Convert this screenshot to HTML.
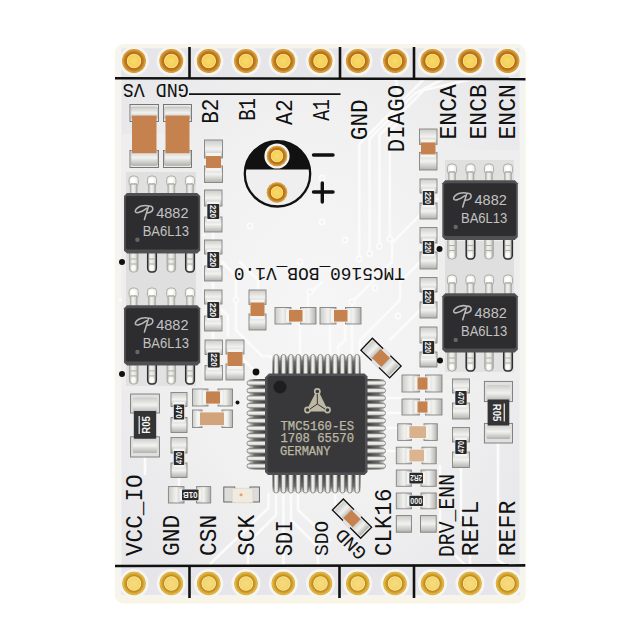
<!DOCTYPE html>
<html><head><meta charset="utf-8"><title>TMC5160-BOB</title>
<style>
html,body{margin:0;padding:0;background:#fff;}
svg{display:block}
text{font-family:"Liberation Sans",sans-serif;}
.silk{font-family:"Liberation Mono","DejaVu Sans Mono",monospace;fill:#111;}
.chip{font-family:"Liberation Sans",sans-serif;fill:#c2c2c2;}
.ic{font-family:"Liberation Mono",monospace;fill:#bdb9a3;stroke:#bdb9a3;stroke-width:0.25px}
.rt{font-family:"Liberation Sans",sans-serif;fill:#f4f4f4;font-weight:bold}
</style></head><body>
<svg width="640" height="640" viewBox="0 0 640 640">
<defs>
<radialGradient id="gold" cx="50%" cy="50%" r="50%">
<stop offset="0" stop-color="#f8da6c"/><stop offset="0.48" stop-color="#f5cf58"/><stop offset="0.57" stop-color="#fbe078"/><stop offset="0.64" stop-color="#b06c1e"/><stop offset="0.8" stop-color="#c27e24"/><stop offset="0.93" stop-color="#dca233"/><stop offset="1" stop-color="#c88e2c"/>
</radialGradient>
<radialGradient id="goldB" cx="50%" cy="50%" r="50%">
<stop offset="0" stop-color="#f6dc80"/><stop offset="0.5" stop-color="#f4d470"/><stop offset="0.58" stop-color="#f8e48c"/><stop offset="0.65" stop-color="#bd8820"/><stop offset="0.8" stop-color="#d2a22c"/><stop offset="0.93" stop-color="#e4ba46"/><stop offset="1" stop-color="#cf9e30"/>
</radialGradient>
<linearGradient id="padv" x1="0" y1="0" x2="0" y2="1"><stop offset="0" stop-color="#cbcbc8"/><stop offset="0.5" stop-color="#f2f2f0"/><stop offset="1" stop-color="#b2b2ae"/></linearGradient>
<linearGradient id="padh" x1="0" y1="0" x2="1" y2="0"><stop offset="0" stop-color="#cbcbc8"/><stop offset="0.5" stop-color="#f2f2f0"/><stop offset="1" stop-color="#b2b2ae"/></linearGradient>
<linearGradient id="pinv" x1="0" y1="0" x2="1" y2="0"><stop offset="0" stop-color="#b5b5b0"/><stop offset="0.35" stop-color="#f2f2ee"/><stop offset="0.7" stop-color="#e2e2de"/><stop offset="1" stop-color="#a5a5a0"/></linearGradient>
<linearGradient id="pinh" x1="0" y1="0" x2="0" y2="1"><stop offset="0" stop-color="#b5b5b0"/><stop offset="0.35" stop-color="#f2f2ee"/><stop offset="0.7" stop-color="#e2e2de"/><stop offset="1" stop-color="#a5a5a0"/></linearGradient>
</defs>

<rect x="0" y="0" width="640" height="640" fill="#ffffff"/>
<rect x="114.8" y="44" width="410.8" height="559.5" rx="9" ry="9" fill="#f8f4e6"/>
<rect x="116.5" y="46.5" width="407.5" height="551" rx="7" ry="7" fill="#f4f4f2"/>
<defs><radialGradient id="brd" cx="0.5" cy="0.48" r="0.62"><stop offset="0" stop-color="#f6f6f6"/><stop offset="0.55" stop-color="#f1f1f2"/><stop offset="1" stop-color="#e8e8ea"/></radialGradient></defs>
<rect x="121.5" y="48.5" width="398" height="546.5" rx="3" ry="3" fill="url(#brd)"/>
<g id="traces" fill="none" stroke="#fbfbfb" stroke-width="2.6" stroke-linecap="round" stroke-linejoin="round">
<path d="M359.3 259 V144 L408 95 L430 73"/>
<path d="M369.5 253.6 V139 L415 93.5 L455 73 L468 68"/>
<path d="M379.4 246.4 V135 L424 90 L490 75 L505 68"/>
<path d="M389.9 239 V131 L400 121 L400 100 L395 75"/>
<path d="M420 215 L392 243 L392 262 L352 302 L352 354"/>
<path d="M420 262 L400 282 L400 300 L368 332 L360 340 V354"/>
<path d="M420 310 L408 322 L390 340"/>
<path d="M437 199 L444 199"/>
<path d="M437 248 L444 248"/>
<path d="M222 262 L236 276 L236 330 L262 356 L270 356 L276 362"/>
<path d="M222 310 L228 316 L228 336"/>
<path d="M213 232 V240"/>
<path d="M213 281 V290"/>
<path d="M213 331 V340"/>
<path d="M244 360 L258 374 L258 381"/>
<path d="M300 324 V354"/>
<path d="M330 324 V354"/>
<path d="M308 307 V296 L322 282"/>
<path d="M345 324 L345 340 L338 347 V354"/>
<path d="M258 290 L258 280 L240 262"/>
<path d="M283.3 494 V566"/>
<path d="M291 494 V520 L318 547 V566"/>
<path d="M276 494 V515 L248 543 V566"/>
<path d="M298 494 V510 L330 540"/>
<path d="M268.5 494 V508 L214 560 L209 566"/>
<path d="M335 494 V504 L342 511"/>
<path d="M385 398 H402"/>
<path d="M385 413 H402"/>
<path d="M385 428 H397"/>
<path d="M385 451 H396"/>
<path d="M440 466 V540 L466 566"/>
<path d="M461 467.5 V520 L470 530 V566"/>
<path d="M498 443 V560 L507 566"/>
<path d="M145 457 V474"/>
<path d="M179 477.5 V486"/>
<path d="M120 300 H126"/>
<path d="M160 235 L204 235"/>
</g>
<circle cx="359.3" cy="259" r="2.6" fill="#f1f1f2" stroke="#fcfcfc" stroke-width="1.6"/>
<circle cx="369.5" cy="253.6" r="2.6" fill="#f1f1f2" stroke="#fcfcfc" stroke-width="1.6"/>
<circle cx="379.4" cy="246.4" r="2.6" fill="#f1f1f2" stroke="#fcfcfc" stroke-width="1.6"/>
<circle cx="389.9" cy="239" r="2.6" fill="#f1f1f2" stroke="#fcfcfc" stroke-width="1.6"/>
<circle cx="375" cy="288" r="2.6" fill="#f1f1f2" stroke="#fcfcfc" stroke-width="1.6"/>
<circle cx="398" cy="316" r="2.6" fill="#f1f1f2" stroke="#fcfcfc" stroke-width="1.6"/>
<circle cx="322" cy="178" r="2.6" fill="#f1f1f2" stroke="#fcfcfc" stroke-width="1.6"/>
<circle cx="322" cy="222" r="2.6" fill="#f1f1f2" stroke="#fcfcfc" stroke-width="1.6"/>
<circle cx="310" cy="292" r="2.6" fill="#f1f1f2" stroke="#fcfcfc" stroke-width="1.6"/>
<circle cx="345" cy="240" r="2.6" fill="#f1f1f2" stroke="#fcfcfc" stroke-width="1.6"/>
<circle cx="300" cy="262" r="2.6" fill="#f1f1f2" stroke="#fcfcfc" stroke-width="1.6"/>
<circle cx="352" cy="302" r="2.6" fill="#f1f1f2" stroke="#fcfcfc" stroke-width="1.6"/>
<circle cx="236" cy="300" r="2.6" fill="#f1f1f2" stroke="#fcfcfc" stroke-width="1.6"/>
<circle cx="250" cy="226" r="2.6" fill="#f1f1f2" stroke="#fcfcfc" stroke-width="1.6"/>
<rect x="122" y="134" width="80" height="256" fill="#eeeeef"/>
<rect x="439" y="150" width="80" height="230" fill="#eeeeef"/>
<rect x="121.5" y="48.5" width="398" height="29" fill="#e6e6ea"/>
<rect x="121.5" y="567" width="398" height="28" fill="#e6e6ea"/>
<g stroke="#111" stroke-width="2.6" fill="none">
<path d="M115 78.3 L525.5 79.1"/>
<path d="M115 566 L525.3 565.4"/>
<path d="M189.5 47 V78.5"/>
<path d="M340 47 V78.5"/>
<path d="M414 47 V78.5"/>
<path d="M189.5 566 V598"/>
<path d="M339.5 566 V598"/>
<path d="M414 566 V598"/>
</g>
<path d="M189 94.2 H340.5" stroke="#111" stroke-width="1.8" fill="none"/>
<circle cx="134" cy="61" r="14.7" fill="#f6f5f0"/>
<circle cx="134" cy="61" r="11.9" fill="url(#gold)"/>
<circle cx="134" cy="583.5" r="14.5" fill="#f6f5f0"/>
<circle cx="134" cy="583.5" r="11.7" fill="url(#goldB)"/>
<circle cx="171.3" cy="61" r="14.7" fill="#f6f5f0"/>
<circle cx="171.3" cy="61" r="11.9" fill="url(#gold)"/>
<circle cx="171.3" cy="583.5" r="14.5" fill="#f6f5f0"/>
<circle cx="171.3" cy="583.5" r="11.7" fill="url(#goldB)"/>
<circle cx="208.7" cy="61" r="14.7" fill="#f6f5f0"/>
<circle cx="208.7" cy="61" r="11.9" fill="url(#gold)"/>
<circle cx="208.7" cy="583.5" r="14.5" fill="#f6f5f0"/>
<circle cx="208.7" cy="583.5" r="11.7" fill="url(#goldB)"/>
<circle cx="246" cy="61" r="14.7" fill="#f6f5f0"/>
<circle cx="246" cy="61" r="11.9" fill="url(#gold)"/>
<circle cx="246" cy="583.5" r="14.5" fill="#f6f5f0"/>
<circle cx="246" cy="583.5" r="11.7" fill="url(#goldB)"/>
<circle cx="283.3" cy="61" r="14.7" fill="#f6f5f0"/>
<circle cx="283.3" cy="61" r="11.9" fill="url(#gold)"/>
<circle cx="283.3" cy="583.5" r="14.5" fill="#f6f5f0"/>
<circle cx="283.3" cy="583.5" r="11.7" fill="url(#goldB)"/>
<circle cx="320.5" cy="61" r="14.7" fill="#f6f5f0"/>
<circle cx="320.5" cy="61" r="11.9" fill="url(#gold)"/>
<circle cx="320.5" cy="583.5" r="14.5" fill="#f6f5f0"/>
<circle cx="320.5" cy="583.5" r="11.7" fill="url(#goldB)"/>
<circle cx="357.8" cy="61" r="14.7" fill="#f6f5f0"/>
<circle cx="357.8" cy="61" r="11.9" fill="url(#gold)"/>
<circle cx="357.8" cy="583.5" r="14.5" fill="#f6f5f0"/>
<circle cx="357.8" cy="583.5" r="11.7" fill="url(#goldB)"/>
<circle cx="395" cy="61" r="14.7" fill="#f6f5f0"/>
<circle cx="395" cy="61" r="11.9" fill="url(#gold)"/>
<circle cx="395" cy="583.5" r="14.5" fill="#f6f5f0"/>
<circle cx="395" cy="583.5" r="11.7" fill="url(#goldB)"/>
<circle cx="432.5" cy="61" r="14.7" fill="#f6f5f0"/>
<circle cx="432.5" cy="61" r="11.9" fill="url(#gold)"/>
<circle cx="432.5" cy="583.5" r="14.5" fill="#f6f5f0"/>
<circle cx="432.5" cy="583.5" r="11.7" fill="url(#goldB)"/>
<circle cx="470" cy="61" r="14.7" fill="#f6f5f0"/>
<circle cx="470" cy="61" r="11.9" fill="url(#gold)"/>
<circle cx="470" cy="583.5" r="14.5" fill="#f6f5f0"/>
<circle cx="470" cy="583.5" r="11.7" fill="url(#goldB)"/>
<circle cx="507.5" cy="61" r="14.7" fill="#f6f5f0"/>
<circle cx="507.5" cy="61" r="11.9" fill="url(#gold)"/>
<circle cx="507.5" cy="583.5" r="14.5" fill="#f6f5f0"/>
<circle cx="507.5" cy="583.5" r="11.7" fill="url(#goldB)"/>
<text class="silk" transform="translate(217.50,123.80) rotate(-90)" font-size="24.24" textLength="25.20" lengthAdjust="spacingAndGlyphs">B2</text>
<text class="silk" transform="translate(254.80,120.80) rotate(-90)" font-size="24.24" textLength="22.80" lengthAdjust="spacingAndGlyphs">B1</text>
<text class="silk" transform="translate(291.90,124.90) rotate(-90)" font-size="24.24" textLength="25.60" lengthAdjust="spacingAndGlyphs">A2</text>
<text class="silk" transform="translate(329.30,120.80) rotate(-90)" font-size="24.24" textLength="21.50" lengthAdjust="spacingAndGlyphs">A1</text>
<text class="silk" transform="translate(366.50,140.20) rotate(-90)" font-size="24.24" textLength="40.91" lengthAdjust="spacingAndGlyphs">GND</text>
<text class="silk" transform="translate(403.70,152.20) rotate(-90)" font-size="24.24" textLength="67.41" lengthAdjust="spacingAndGlyphs">DIAGO</text>
<text class="silk" transform="translate(456.10,139.50) rotate(-90)" font-size="24.24" textLength="55.51" lengthAdjust="spacingAndGlyphs">ENCA</text>
<text class="silk" transform="translate(485.70,139.50) rotate(-90)" font-size="24.24" textLength="55.51" lengthAdjust="spacingAndGlyphs">ENCB</text>
<text class="silk" transform="translate(515.20,139.50) rotate(-90)" font-size="24.24" textLength="55.51" lengthAdjust="spacingAndGlyphs">ENCN</text>
<text class="silk" transform="translate(141.70,556.00) rotate(-90)" font-size="24.24" textLength="81.61" lengthAdjust="spacingAndGlyphs">VCC_IO</text>
<text class="silk" transform="translate(178.90,556.00) rotate(-90)" font-size="24.24" textLength="41.11" lengthAdjust="spacingAndGlyphs">GND</text>
<text class="silk" transform="translate(216.10,556.00) rotate(-90)" font-size="24.24" textLength="41.11" lengthAdjust="spacingAndGlyphs">CSN</text>
<text class="silk" transform="translate(254.00,556.00) rotate(-90)" font-size="24.24" textLength="41.11" lengthAdjust="spacingAndGlyphs">SCK</text>
<text class="silk" transform="translate(291.50,556.00) rotate(-90)" font-size="24.24" textLength="35.70" lengthAdjust="spacingAndGlyphs">SDI</text>
<text class="silk" transform="translate(327.75,556.00) rotate(-90)" font-size="20.45" textLength="35.20" lengthAdjust="spacingAndGlyphs">SDO</text>
<text class="silk" transform="translate(390.50,556.00) rotate(-90)" font-size="24.24" textLength="67.41" lengthAdjust="spacingAndGlyphs">CLK16</text>
<text class="silk" transform="translate(453.60,557.00) rotate(-90)" font-size="21.52" textLength="83.01" lengthAdjust="spacingAndGlyphs">DRV_ENN</text>
<text class="silk" transform="translate(478.20,556.30) rotate(-90)" font-size="24.24" textLength="55.71" lengthAdjust="spacingAndGlyphs">REFL</text>
<text class="silk" transform="translate(515.00,556.30) rotate(-90)" font-size="24.24" textLength="55.71" lengthAdjust="spacingAndGlyphs">REFR</text>
<text class="silk" transform="translate(188.80,83.90) rotate(180)" font-size="20.61" textLength="66.11" lengthAdjust="spacingAndGlyphs">GND VS</text>
<text class="silk" transform="translate(405.00,268.40) rotate(180)" font-size="18.48" textLength="171.12" lengthAdjust="spacingAndGlyphs">TMC5160_BOB_V1.0</text>
<text class="silk" transform="translate(367.74,552.44) rotate(225)" font-size="18.64" textLength="35.60" lengthAdjust="spacingAndGlyphs">GND</text>
<circle cx="277.5" cy="173.8" r="32.7" fill="#efeff0" stroke="#111" stroke-width="2.3"/>
<path d="M244.6 169.5 A33.2 33.2 0 0 1 310.4 169.5 Z" fill="#111"/>
<circle cx="277" cy="156" r="12.6" fill="#f4f4f2"/>
<circle cx="277" cy="156" r="10.3" fill="url(#gold)"/>
<circle cx="277" cy="192.5" r="10.3" fill="url(#gold)"/>
<g stroke="#111" stroke-width="3.4" stroke-linecap="round"><path d="M313.5 155 H333"/><path d="M313.5 192 H333"/><path d="M322.3 183 V202"/></g>
<rect x="130" y="104.5" width="28.5" height="17" fill="#e9e9e7" stroke="#6a6a6a" stroke-width="0.9"/>
<rect x="130" y="150.5" width="28.5" height="17" fill="#e9e9e7" stroke="#6a6a6a" stroke-width="0.9"/>
<rect x="130.8" y="107" width="26.9" height="12" rx="2" fill="url(#padv)" stroke="#bdbdb9" stroke-width="0.6"/>
<rect x="130.8" y="150" width="26.9" height="15.5" rx="2" fill="url(#padv)" stroke="#a9a9a5" stroke-width="0.6"/>
<rect x="132" y="115.6" width="24.5" height="37.6" fill="#c5824f"/>
<rect x="163.5" y="104.5" width="28.0" height="17" fill="#e9e9e7" stroke="#6a6a6a" stroke-width="0.9"/>
<rect x="163.5" y="150.5" width="28.0" height="17" fill="#e9e9e7" stroke="#6a6a6a" stroke-width="0.9"/>
<rect x="164.3" y="107" width="26.4" height="12" rx="2" fill="url(#padv)" stroke="#bdbdb9" stroke-width="0.6"/>
<rect x="164.3" y="150" width="26.4" height="15.5" rx="2" fill="url(#padv)" stroke="#a9a9a5" stroke-width="0.6"/>
<rect x="165.5" y="115.6" width="24.0" height="37.6" fill="#c5824f"/>
<rect x="204.50" y="140.00" width="18.00" height="18.00" fill="url(#padv)" stroke="#838381" stroke-width="0.9"/>
<rect x="204.50" y="166.00" width="18.00" height="16.50" fill="url(#padv)" stroke="#838381" stroke-width="0.9"/>
<rect x="206.0" y="153" width="15.0" height="18" fill="#f3f3f1"/>
<rect x="206.0" y="156" width="15.0" height="12" fill="#c5824f"/>
<rect x="204.50" y="190.00" width="17.50" height="16.00" fill="url(#padv)" stroke="#838381" stroke-width="0.9"/>
<rect x="204.50" y="217.00" width="17.50" height="15.00" fill="url(#padv)" stroke="#838381" stroke-width="0.9"/>
<rect x="206.7" y="201.5" width="13.1" height="20" fill="#f3f3f1"/>
<rect x="207.3" y="204" width="11.9" height="15" rx="0.8" fill="#29292b"/>
<text class="rt" transform="translate(210.15,211.50) rotate(90)" font-size="8.6" text-anchor="middle" textLength="13.2" lengthAdjust="spacingAndGlyphs">220</text>
<rect x="204.50" y="240.00" width="17.50" height="14.00" fill="url(#padv)" stroke="#838381" stroke-width="0.9"/>
<rect x="204.50" y="266.00" width="17.50" height="15.00" fill="url(#padv)" stroke="#838381" stroke-width="0.9"/>
<rect x="206.7" y="249.5" width="13.1" height="21" fill="#f3f3f1"/>
<rect x="207.3" y="252" width="11.9" height="16" rx="0.8" fill="#29292b"/>
<text class="rt" transform="translate(210.15,260.00) rotate(90)" font-size="8.6" text-anchor="middle" textLength="14.2" lengthAdjust="spacingAndGlyphs">220</text>
<rect x="204.50" y="290.00" width="17.50" height="14.00" fill="url(#padv)" stroke="#838381" stroke-width="0.9"/>
<rect x="204.50" y="316.00" width="17.50" height="15.00" fill="url(#padv)" stroke="#838381" stroke-width="0.9"/>
<rect x="206.7" y="299.5" width="13.1" height="21" fill="#f3f3f1"/>
<rect x="207.3" y="302" width="11.9" height="16" rx="0.8" fill="#29292b"/>
<text class="rt" transform="translate(210.15,310.00) rotate(90)" font-size="8.6" text-anchor="middle" textLength="14.2" lengthAdjust="spacingAndGlyphs">220</text>
<rect x="205.00" y="340.00" width="17.50" height="14.50" fill="url(#padv)" stroke="#838381" stroke-width="0.9"/>
<rect x="205.00" y="365.50" width="17.50" height="14.50" fill="url(#padv)" stroke="#838381" stroke-width="0.9"/>
<rect x="207.2" y="350.0" width="13.1" height="20.0" fill="#f3f3f1"/>
<rect x="207.8" y="352.5" width="11.9" height="15.0" rx="0.8" fill="#29292b"/>
<text class="rt" transform="translate(210.65,360.00) rotate(90)" font-size="8.6" text-anchor="middle" textLength="13.2" lengthAdjust="spacingAndGlyphs">220</text>
<rect x="226.00" y="340.00" width="18.00" height="14.00" fill="url(#padv)" stroke="#838381" stroke-width="0.9"/>
<rect x="226.00" y="364.00" width="18.00" height="16.00" fill="url(#padv)" stroke="#838381" stroke-width="0.9"/>
<rect x="227.5" y="349" width="15" height="20" fill="#f3f3f1"/>
<rect x="227.5" y="352" width="15" height="14" fill="#c5824f"/>
<rect x="419.50" y="129.00" width="17.50" height="15.40" fill="url(#padv)" stroke="#838381" stroke-width="0.9"/>
<rect x="419.50" y="152.40" width="17.50" height="17.60" fill="url(#padv)" stroke="#838381" stroke-width="0.9"/>
<rect x="421.0" y="139.4" width="14.5" height="18.0" fill="#f3f3f1"/>
<rect x="421.0" y="142.4" width="14.5" height="12.0" fill="#c5824f"/>
<rect x="420.00" y="179.00" width="17.00" height="14.00" fill="url(#padv)" stroke="#838381" stroke-width="0.9"/>
<rect x="420.00" y="203.00" width="17.00" height="16.00" fill="url(#padv)" stroke="#838381" stroke-width="0.9"/>
<rect x="422.2" y="188.5" width="12.6" height="19" fill="#f3f3f1"/>
<rect x="422.8" y="191" width="11.4" height="14" rx="0.8" fill="#29292b"/>
<text class="rt" transform="translate(425.40,198.00) rotate(90)" font-size="8.6" text-anchor="middle" textLength="12.2" lengthAdjust="spacingAndGlyphs">220</text>
<rect x="420.00" y="227.50" width="17.00" height="15.50" fill="url(#padv)" stroke="#838381" stroke-width="0.9"/>
<rect x="420.00" y="252.00" width="17.00" height="17.00" fill="url(#padv)" stroke="#838381" stroke-width="0.9"/>
<rect x="422.2" y="238.5" width="12.6" height="18" fill="#f3f3f1"/>
<rect x="422.8" y="241" width="11.4" height="13" rx="0.8" fill="#29292b"/>
<text class="rt" transform="translate(425.40,247.50) rotate(90)" font-size="8.6" text-anchor="middle" textLength="11.2" lengthAdjust="spacingAndGlyphs">220</text>
<rect x="420.00" y="277.50" width="17.00" height="14.50" fill="url(#padv)" stroke="#838381" stroke-width="0.9"/>
<rect x="420.00" y="302.00" width="17.00" height="16.00" fill="url(#padv)" stroke="#838381" stroke-width="0.9"/>
<rect x="422.2" y="287.5" width="12.6" height="19" fill="#f3f3f1"/>
<rect x="422.8" y="290" width="11.4" height="14" rx="0.8" fill="#29292b"/>
<text class="rt" transform="translate(425.40,297.00) rotate(90)" font-size="8.6" text-anchor="middle" textLength="12.2" lengthAdjust="spacingAndGlyphs">220</text>
<rect x="420.00" y="327.00" width="17.00" height="16.00" fill="url(#padv)" stroke="#838381" stroke-width="0.9"/>
<rect x="420.00" y="352.00" width="17.00" height="15.00" fill="url(#padv)" stroke="#838381" stroke-width="0.9"/>
<rect x="422.2" y="338.5" width="12.6" height="18" fill="#f3f3f1"/>
<rect x="422.8" y="341" width="11.4" height="13" rx="0.8" fill="#29292b"/>
<text class="rt" transform="translate(425.40,347.50) rotate(90)" font-size="8.6" text-anchor="middle" textLength="11.2" lengthAdjust="spacingAndGlyphs">220</text>
<rect x="249.00" y="290.00" width="17.00" height="14.50" fill="url(#padv)" stroke="#838381" stroke-width="0.9"/>
<rect x="249.00" y="314.00" width="17.00" height="16.00" fill="url(#padv)" stroke="#838381" stroke-width="0.9"/>
<rect x="250.5" y="299.5" width="14" height="19.5" fill="#f3f3f1"/>
<rect x="250.5" y="302.5" width="14" height="13.5" fill="#c5824f"/>
<rect x="275.00" y="307.50" width="16.00" height="16.50" fill="url(#padh)" stroke="#838381" stroke-width="0.9"/>
<rect x="300.50" y="307.50" width="15.50" height="16.50" fill="url(#padh)" stroke="#838381" stroke-width="0.9"/>
<rect x="286" y="309.0" width="19.5" height="13.5" fill="#f3f3f1"/>
<rect x="289" y="309.9" width="13.5" height="11.7" fill="#c5824f"/>
<rect x="320.00" y="307.50" width="16.00" height="16.50" fill="url(#padh)" stroke="#838381" stroke-width="0.9"/>
<rect x="345.50" y="307.50" width="15.50" height="16.50" fill="url(#padh)" stroke="#838381" stroke-width="0.9"/>
<rect x="331" y="309.0" width="19.5" height="13.5" fill="#f3f3f1"/>
<rect x="334" y="309.9" width="13.5" height="11.7" fill="#c5824f"/>
<rect x="192.50" y="389.00" width="15.50" height="17.00" fill="url(#padh)" stroke="#838381" stroke-width="0.9"/>
<rect x="218.00" y="389.00" width="14.50" height="17.00" fill="url(#padh)" stroke="#838381" stroke-width="0.9"/>
<rect x="203" y="390.5" width="20" height="14" fill="#f3f3f1"/>
<rect x="206" y="391.4" width="14" height="12.2" fill="#c5824f"/>
<rect x="192.50" y="410.00" width="9.50" height="17.50" fill="url(#padh)" stroke="#838381" stroke-width="0.9"/>
<rect x="222.00" y="410.00" width="10.50" height="17.50" fill="url(#padh)" stroke="#838381" stroke-width="0.9"/>
<rect x="197" y="411.5" width="30" height="14.5" fill="#f3f3f1"/>
<rect x="200" y="412.4" width="24" height="12.7" fill="#d2a47c"/>
<rect x="171.00" y="392.50" width="16.00" height="14.00" fill="url(#padv)" stroke="#838381" stroke-width="0.9"/>
<rect x="171.00" y="417.50" width="16.00" height="15.00" fill="url(#padv)" stroke="#838381" stroke-width="0.9"/>
<rect x="173.2" y="402.0" width="11.6" height="20.0" fill="#f3f3f1"/>
<rect x="173.8" y="404.5" width="10.4" height="15.0" rx="0.8" fill="#29292b"/>
<text class="rt" transform="translate(175.90,412.00) rotate(90)" font-size="8.6" text-anchor="middle" textLength="13.2" lengthAdjust="spacingAndGlyphs">470</text>
<rect x="171.00" y="437.50" width="16.00" height="15.50" fill="url(#padv)" stroke="#838381" stroke-width="0.9"/>
<rect x="171.00" y="463.00" width="16.00" height="14.50" fill="url(#padv)" stroke="#838381" stroke-width="0.9"/>
<rect x="173.2" y="448.5" width="11.6" height="19" fill="#f3f3f1"/>
<rect x="173.8" y="451" width="10.4" height="14" rx="0.8" fill="#29292b"/>
<text class="rt" transform="translate(182.10,458.00) rotate(-90)" font-size="8.6" text-anchor="middle" textLength="12.2" lengthAdjust="spacingAndGlyphs">470</text>
<rect x="168.40" y="486.60" width="15.60" height="16.40" fill="url(#padh)" stroke="#838381" stroke-width="0.9"/>
<rect x="196.50" y="486.60" width="14.20" height="16.40" fill="url(#padh)" stroke="#838381" stroke-width="0.9"/>
<rect x="179.5" y="488.8" width="21.5" height="11.999999999999977" fill="#f3f3f1"/>
<rect x="182" y="489.40000000000003" width="16.5" height="10.799999999999978" rx="0.8" fill="#29292b"/>
<text class="rt" transform="translate(190.25,491.70) rotate(180)" font-size="8.6" text-anchor="middle" textLength="14.7" lengthAdjust="spacingAndGlyphs">01B</text>
<rect x="223.8" y="487" width="11" height="15" fill="#dcdcda" stroke="#5a5a5a" stroke-width="0.9"/>
<rect x="250" y="487" width="9.4" height="15" fill="#dcdcda" stroke="#5a5a5a" stroke-width="0.9"/>
<rect x="232.2" y="488.3" width="20.7" height="14.4" rx="1" fill="#f1eadf" stroke="#d9cfc0" stroke-width="0.6"/><circle cx="241" cy="494.8" r="1.5" fill="#e8a070"/>
<rect x="130.6" y="394" width="28.80000000000001" height="19" fill="#e0e0de" stroke="#77777a" stroke-width="0.9"/>
<rect x="130.6" y="436.8" width="28.80000000000001" height="20.19999999999999" fill="#e0e0de" stroke="#77777a" stroke-width="0.9"/>
<rect x="132.79999999999998" y="397.5" width="24.400000000000013" height="15" rx="1.5" fill="url(#padv)"/>
<rect x="132.79999999999998" y="437.8" width="24.400000000000013" height="15.199999999999989" rx="1.5" fill="url(#padv)"/>
<rect x="133.79999999999998" y="411" width="22.400000000000013" height="27.80000000000001" rx="1" fill="#343436"/>
<text class="rt" transform="translate(150.00,424.90) rotate(-90)" font-size="10.5" text-anchor="middle" textLength="17.5" lengthAdjust="spacingAndGlyphs">R05</text>
<path d="M139.20 415.9 V433.9" stroke="#f2f2f2" stroke-width="1.2"/>
<rect x="484.4" y="381.4" width="28.100000000000023" height="20.200000000000045" fill="#e0e0de" stroke="#77777a" stroke-width="0.9"/>
<rect x="484.4" y="423.4" width="28.100000000000023" height="19.600000000000023" fill="#e0e0de" stroke="#77777a" stroke-width="0.9"/>
<rect x="486.59999999999997" y="384.9" width="23.700000000000024" height="16.200000000000045" rx="1.5" fill="url(#padv)"/>
<rect x="486.59999999999997" y="424.4" width="23.700000000000024" height="14.600000000000023" rx="1.5" fill="url(#padv)"/>
<rect x="487.59999999999997" y="399.6" width="21.700000000000024" height="25.799999999999955" rx="1" fill="#343436"/>
<text class="rt" transform="translate(493.45,412.50) rotate(90)" font-size="10.5" text-anchor="middle" textLength="17.5" lengthAdjust="spacingAndGlyphs">R05</text>
<path d="M504.25 403.5 V421.5" stroke="#f2f2f2" stroke-width="1.2"/>
<rect x="402.00" y="375.00" width="17.50" height="17.00" fill="url(#padh)" stroke="#838381" stroke-width="0.9"/>
<rect x="425.50" y="375.00" width="16.50" height="17.00" fill="url(#padh)" stroke="#838381" stroke-width="0.9"/>
<rect x="414.5" y="376.5" width="16.0" height="14" fill="#f3f3f1"/>
<rect x="417.5" y="377.4" width="10.0" height="12.2" fill="#c5824f"/>
<rect x="402.00" y="399.00" width="17.50" height="16.00" fill="url(#padh)" stroke="#838381" stroke-width="0.9"/>
<rect x="425.50" y="399.00" width="16.50" height="16.00" fill="url(#padh)" stroke="#838381" stroke-width="0.9"/>
<rect x="414.5" y="400.5" width="16.0" height="13" fill="#f3f3f1"/>
<rect x="417.5" y="401.4" width="10.0" height="11.2" fill="#c5824f"/>
<rect x="397.70" y="423.80" width="13.70" height="16.60" fill="url(#padh)" stroke="#838381" stroke-width="0.9"/>
<rect x="424.00" y="423.80" width="13.30" height="16.60" fill="url(#padh)" stroke="#838381" stroke-width="0.9"/>
<rect x="406.4" y="425.3" width="22.600000000000023" height="13.599999999999966" fill="#f3f3f1"/>
<rect x="409.4" y="426.2" width="16.600000000000023" height="11.799999999999965" fill="#d9b28c"/>
<rect x="396.30" y="447.20" width="15.10" height="16.60" fill="url(#padh)" stroke="#838381" stroke-width="0.9"/>
<rect x="422.00" y="447.20" width="14.20" height="16.60" fill="url(#padh)" stroke="#838381" stroke-width="0.9"/>
<rect x="406.4" y="448.7" width="20.600000000000023" height="13.600000000000023" fill="#f3f3f1"/>
<rect x="409.4" y="449.59999999999997" width="14.600000000000023" height="11.800000000000022" fill="#dcb590"/>
<rect x="396.30" y="470.00" width="15.10" height="16.30" fill="url(#padh)" stroke="#838381" stroke-width="0.9"/>
<rect x="421.00" y="470.00" width="15.20" height="16.30" fill="url(#padh)" stroke="#838381" stroke-width="0.9"/>
<rect x="406.9" y="472.2" width="18.600000000000023" height="11.900000000000011" fill="#f3f3f1"/>
<rect x="409.4" y="472.8" width="13.600000000000023" height="10.700000000000012" rx="0.8" fill="#29292b"/>
<text class="rt" transform="translate(416.20,475.05) rotate(180)" font-size="8.6" text-anchor="middle" textLength="11.8" lengthAdjust="spacingAndGlyphs">2R2</text>
<rect x="396.30" y="493.00" width="15.10" height="15.80" fill="url(#padh)" stroke="#838381" stroke-width="0.9"/>
<rect x="421.00" y="493.00" width="15.20" height="15.80" fill="url(#padh)" stroke="#838381" stroke-width="0.9"/>
<rect x="406.9" y="495.2" width="18.600000000000023" height="11.400000000000011" fill="#f3f3f1"/>
<rect x="409.4" y="495.8" width="13.600000000000023" height="10.200000000000012" rx="0.8" fill="#29292b"/>
<text class="rt" transform="translate(416.20,503.85) rotate(0)" font-size="8.2" text-anchor="middle" textLength="11.8" lengthAdjust="spacingAndGlyphs">000</text>
<rect x="396.3" y="515.6" width="15.1" height="16.6" fill="url(#padv)" stroke="#7d7d7b" stroke-width="0.9"/><rect x="420.5" y="515.6" width="15.7" height="16.6" fill="url(#padv)" stroke="#7d7d7b" stroke-width="0.9"/>
<rect x="452.50" y="379.00" width="17.00" height="14.00" fill="url(#padv)" stroke="#838381" stroke-width="0.9"/>
<rect x="452.50" y="403.00" width="17.00" height="16.00" fill="url(#padv)" stroke="#838381" stroke-width="0.9"/>
<rect x="454.7" y="388.5" width="12.6" height="19" fill="#f3f3f1"/>
<rect x="455.3" y="391" width="11.4" height="14" rx="0.8" fill="#29292b"/>
<text class="rt" transform="translate(457.90,398.00) rotate(90)" font-size="8.6" text-anchor="middle" textLength="12.2" lengthAdjust="spacingAndGlyphs">470</text>
<rect x="452.50" y="427.50" width="17.00" height="14.50" fill="url(#padv)" stroke="#838381" stroke-width="0.9"/>
<rect x="452.50" y="452.00" width="17.00" height="15.50" fill="url(#padv)" stroke="#838381" stroke-width="0.9"/>
<rect x="454.7" y="437.5" width="12.6" height="19" fill="#f3f3f1"/>
<rect x="455.3" y="440" width="11.4" height="14" rx="0.8" fill="#29292b"/>
<text class="rt" transform="translate(464.10,447.00) rotate(-90)" font-size="8.6" text-anchor="middle" textLength="12.2" lengthAdjust="spacingAndGlyphs">470</text>
<g transform="translate(381,358.1) rotate(44)">
<rect x="-20.0" y="-8.25" width="40" height="16.5" fill="#e4e4e2" stroke="#111" stroke-width="1.3"/>
<rect x="-5" y="-9.25" width="10" height="18.5" fill="#e4e4e2"/>
<rect x="-18.0" y="-6.75" width="13.0" height="13.5" fill="url(#padh)"/>
<rect x="6" y="-6.75" width="12.0" height="13.5" fill="url(#padh)"/>
<rect x="-6.5" y="-6.25" width="13" height="12.5" fill="#c5824f"/>
</g>
<g transform="translate(352,518.6) rotate(45)">
<rect x="-20.0" y="-7.75" width="40" height="15.5" fill="#e4e4e2" stroke="#111" stroke-width="1.3"/>
<rect x="-5" y="-8.75" width="10" height="17.5" fill="#e4e4e2"/>
<rect x="-18.0" y="-6.25" width="13.0" height="12.5" fill="url(#padh)"/>
<rect x="6" y="-6.25" width="12.0" height="12.5" fill="url(#padh)"/>
<rect x="-6.5" y="-5.75" width="13" height="11.5" fill="#c5824f"/>
</g>
<rect x="126" y="254" width="70" height="52" fill="#dfdfdf"/>
<rect x="445" y="241" width="69" height="52" fill="#dfdfdf"/>
<rect x="126" y="366" width="70" height="20" fill="#e2e2e2"/>
<rect x="126" y="172" width="70" height="23" fill="#e0e0de"/>
<rect x="445" y="160" width="69" height="23" fill="#e0e0de"/>
<rect x="445" y="352" width="69" height="20" fill="#e2e2e2"/>
<rect x="129.1" y="176" width="9.2" height="10.5" rx="3.6" fill="#f1f1ed" stroke="#a6a6a0" stroke-width="0.9"/>
<rect x="130.29999999999998" y="183.5" width="6.8" height="11.5" rx="1.5" fill="url(#pinv)" stroke="#a6a6a0" stroke-width="0.7"/>
<path d="M130.7 184.2 H136.7" stroke="#b0b0a8" stroke-width="1"/>
<ellipse cx="133.2" cy="180.5" rx="2.6" ry="2.8" fill="#ffffff"/>
<rect x="129.39999999999998" y="250.5" width="8.6" height="21.5" rx="3.4" fill="url(#pinv)" stroke="#a0a09a" stroke-width="0.8"/>
<path d="M130.39999999999998 259.0 H137.0 M130.39999999999998 264.0 H137.0" stroke="#b0b0a8" stroke-width="1"/>
<ellipse cx="133.39999999999998" cy="267.8" rx="2.3" ry="2.6" fill="#fbfbf9"/>
<rect x="147.4" y="176" width="9.2" height="10.5" rx="3.6" fill="#f1f1ed" stroke="#a6a6a0" stroke-width="0.9"/>
<rect x="148.6" y="183.5" width="6.8" height="11.5" rx="1.5" fill="url(#pinv)" stroke="#a6a6a0" stroke-width="0.7"/>
<path d="M149 184.2 H155" stroke="#b0b0a8" stroke-width="1"/>
<ellipse cx="151.5" cy="180.5" rx="2.6" ry="2.8" fill="#ffffff"/>
<rect x="147.7" y="250.5" width="8.6" height="21.5" rx="3.4" fill="url(#pinv)" stroke="#2e2e30" stroke-width="1.5"/>
<path d="M148.7 259.0 H155.3 M148.7 264.0 H155.3" stroke="#b0b0a8" stroke-width="1"/>
<ellipse cx="151.7" cy="267.8" rx="2.3" ry="2.6" fill="#fbfbf9"/>
<rect x="166.70000000000002" y="176" width="9.2" height="10.5" rx="3.6" fill="#f1f1ed" stroke="#a6a6a0" stroke-width="0.9"/>
<rect x="167.9" y="183.5" width="6.8" height="11.5" rx="1.5" fill="url(#pinv)" stroke="#a6a6a0" stroke-width="0.7"/>
<path d="M168.3 184.2 H174.3" stroke="#b0b0a8" stroke-width="1"/>
<ellipse cx="170.8" cy="180.5" rx="2.6" ry="2.8" fill="#ffffff"/>
<rect x="167.0" y="250.5" width="8.6" height="21.5" rx="3.4" fill="url(#pinv)" stroke="#a0a09a" stroke-width="0.8"/>
<path d="M168.0 259.0 H174.60000000000002 M168.0 264.0 H174.60000000000002" stroke="#b0b0a8" stroke-width="1"/>
<ellipse cx="171.0" cy="267.8" rx="2.3" ry="2.6" fill="#fbfbf9"/>
<rect x="185.4" y="176" width="9.2" height="10.5" rx="3.6" fill="#f1f1ed" stroke="#a6a6a0" stroke-width="0.9"/>
<rect x="186.6" y="183.5" width="6.8" height="11.5" rx="1.5" fill="url(#pinv)" stroke="#a6a6a0" stroke-width="0.7"/>
<path d="M187 184.2 H193" stroke="#b0b0a8" stroke-width="1"/>
<ellipse cx="189.5" cy="180.5" rx="2.6" ry="2.8" fill="#ffffff"/>
<rect x="185.7" y="250.5" width="8.6" height="21.5" rx="3.4" fill="url(#pinv)" stroke="#2e2e30" stroke-width="1.5"/>
<path d="M186.7 259.0 H193.3 M186.7 264.0 H193.3" stroke="#b0b0a8" stroke-width="1"/>
<ellipse cx="189.7" cy="267.8" rx="2.3" ry="2.6" fill="#fbfbf9"/>
<path d="M127 193 H197.2 L200.2 196 V250.5 L197.2 253.5 H127 L124 250.5 V196 Z" fill="#505052"/>
<rect x="125.8" y="196" width="72.6" height="53.5" rx="2" fill="#2d2d2f"/>
<text class="chip" x="156.20" y="217.6" font-size="13.91" textLength="32.30" lengthAdjust="spacingAndGlyphs">4882</text>
<text class="chip" x="142.70" y="235.6" font-size="14.49" textLength="46.28" lengthAdjust="spacingAndGlyphs">BA6L13</text>
<g transform="translate(124,193)" fill="none" stroke="#b8b8b8" stroke-width="1.55" stroke-linecap="round" stroke-linejoin="round"><path d="M24.6 13 L20.4 26.6 M24.6 13 C30 12.2,31 19.2,23 20 M24.6 13 C21 11.6,13.4 13,11.4 17.6 C10.6 21,16.6 20.2,22.6 15.4"/></g>
<circle cx="137.4" cy="239.7" r="2.2" fill="#66666a"/>
<rect x="129.1" y="288" width="9.2" height="10.5" rx="3.6" fill="#f1f1ed" stroke="#a6a6a0" stroke-width="0.9"/>
<rect x="130.29999999999998" y="295.5" width="6.8" height="11.800000000000011" rx="1.5" fill="url(#pinv)" stroke="#a6a6a0" stroke-width="0.7"/>
<path d="M130.7 296.2 H136.7" stroke="#b0b0a8" stroke-width="1"/>
<ellipse cx="133.2" cy="292.5" rx="2.6" ry="2.8" fill="#ffffff"/>
<rect x="129.39999999999998" y="362.4" width="8.6" height="21.600000000000023" rx="3.4" fill="url(#pinv)" stroke="#a0a09a" stroke-width="0.8"/>
<path d="M130.39999999999998 370.9 H137.0 M130.39999999999998 375.9 H137.0" stroke="#b0b0a8" stroke-width="1"/>
<ellipse cx="133.39999999999998" cy="379.8" rx="2.3" ry="2.6" fill="#fbfbf9"/>
<rect x="147.4" y="288" width="9.2" height="10.5" rx="3.6" fill="#f1f1ed" stroke="#a6a6a0" stroke-width="0.9"/>
<rect x="148.6" y="295.5" width="6.8" height="11.800000000000011" rx="1.5" fill="url(#pinv)" stroke="#a6a6a0" stroke-width="0.7"/>
<path d="M149 296.2 H155" stroke="#b0b0a8" stroke-width="1"/>
<ellipse cx="151.5" cy="292.5" rx="2.6" ry="2.8" fill="#ffffff"/>
<rect x="147.7" y="362.4" width="8.6" height="21.600000000000023" rx="3.4" fill="url(#pinv)" stroke="#2e2e30" stroke-width="1.5"/>
<path d="M148.7 370.9 H155.3 M148.7 375.9 H155.3" stroke="#b0b0a8" stroke-width="1"/>
<ellipse cx="151.7" cy="379.8" rx="2.3" ry="2.6" fill="#fbfbf9"/>
<rect x="166.70000000000002" y="288" width="9.2" height="10.5" rx="3.6" fill="#f1f1ed" stroke="#a6a6a0" stroke-width="0.9"/>
<rect x="167.9" y="295.5" width="6.8" height="11.800000000000011" rx="1.5" fill="url(#pinv)" stroke="#a6a6a0" stroke-width="0.7"/>
<path d="M168.3 296.2 H174.3" stroke="#b0b0a8" stroke-width="1"/>
<ellipse cx="170.8" cy="292.5" rx="2.6" ry="2.8" fill="#ffffff"/>
<rect x="167.0" y="362.4" width="8.6" height="21.600000000000023" rx="3.4" fill="url(#pinv)" stroke="#a0a09a" stroke-width="0.8"/>
<path d="M168.0 370.9 H174.60000000000002 M168.0 375.9 H174.60000000000002" stroke="#b0b0a8" stroke-width="1"/>
<ellipse cx="171.0" cy="379.8" rx="2.3" ry="2.6" fill="#fbfbf9"/>
<rect x="185.4" y="288" width="9.2" height="10.5" rx="3.6" fill="#f1f1ed" stroke="#a6a6a0" stroke-width="0.9"/>
<rect x="186.6" y="295.5" width="6.8" height="11.800000000000011" rx="1.5" fill="url(#pinv)" stroke="#a6a6a0" stroke-width="0.7"/>
<path d="M187 296.2 H193" stroke="#b0b0a8" stroke-width="1"/>
<ellipse cx="189.5" cy="292.5" rx="2.6" ry="2.8" fill="#ffffff"/>
<rect x="185.7" y="362.4" width="8.6" height="21.600000000000023" rx="3.4" fill="url(#pinv)" stroke="#2e2e30" stroke-width="1.5"/>
<path d="M186.7 370.9 H193.3 M186.7 375.9 H193.3" stroke="#b0b0a8" stroke-width="1"/>
<ellipse cx="189.7" cy="379.8" rx="2.3" ry="2.6" fill="#fbfbf9"/>
<path d="M127 305.3 H197.2 L200.2 308.3 V362.4 L197.2 365.4 H127 L124 362.4 V308.3 Z" fill="#505052"/>
<rect x="125.8" y="308.3" width="72.6" height="53.099999999999966" rx="2" fill="#2d2d2f"/>
<text class="chip" x="156.20" y="329.90000000000003" font-size="13.91" textLength="32.30" lengthAdjust="spacingAndGlyphs">4882</text>
<text class="chip" x="142.70" y="347.90000000000003" font-size="14.49" textLength="46.28" lengthAdjust="spacingAndGlyphs">BA6L13</text>
<g transform="translate(124,305.3)" fill="none" stroke="#b8b8b8" stroke-width="1.55" stroke-linecap="round" stroke-linejoin="round"><path d="M24.6 13 L20.4 26.6 M24.6 13 C30 12.2,31 19.2,23 20 M24.6 13 C21 11.6,13.4 13,11.4 17.6 C10.6 21,16.6 20.2,22.6 15.4"/></g>
<circle cx="137.4" cy="352.0" r="2.2" fill="#66666a"/>
<rect x="447.4" y="164" width="9.2" height="10.5" rx="3.6" fill="#f1f1ed" stroke="#a6a6a0" stroke-width="0.9"/>
<rect x="448.6" y="171.5" width="6.8" height="10.800000000000011" rx="1.5" fill="url(#pinv)" stroke="#a6a6a0" stroke-width="0.7"/>
<path d="M449 172.2 H455" stroke="#b0b0a8" stroke-width="1"/>
<ellipse cx="451.5" cy="168.5" rx="2.6" ry="2.8" fill="#ffffff"/>
<rect x="447.7" y="237" width="8.6" height="22" rx="3.4" fill="url(#pinv)" stroke="#a0a09a" stroke-width="0.8"/>
<path d="M448.7 245.5 H455.3 M448.7 250.5 H455.3" stroke="#b0b0a8" stroke-width="1"/>
<ellipse cx="451.7" cy="254.8" rx="2.3" ry="2.6" fill="#fbfbf9"/>
<rect x="465.9" y="164" width="9.2" height="10.5" rx="3.6" fill="#f1f1ed" stroke="#a6a6a0" stroke-width="0.9"/>
<rect x="467.1" y="171.5" width="6.8" height="10.800000000000011" rx="1.5" fill="url(#pinv)" stroke="#a6a6a0" stroke-width="0.7"/>
<path d="M467.5 172.2 H473.5" stroke="#b0b0a8" stroke-width="1"/>
<ellipse cx="470.0" cy="168.5" rx="2.6" ry="2.8" fill="#ffffff"/>
<rect x="466.2" y="237" width="8.6" height="22" rx="3.4" fill="url(#pinv)" stroke="#2e2e30" stroke-width="1.5"/>
<path d="M467.2 245.5 H473.8 M467.2 250.5 H473.8" stroke="#b0b0a8" stroke-width="1"/>
<ellipse cx="470.2" cy="254.8" rx="2.3" ry="2.6" fill="#fbfbf9"/>
<rect x="484.4" y="164" width="9.2" height="10.5" rx="3.6" fill="#f1f1ed" stroke="#a6a6a0" stroke-width="0.9"/>
<rect x="485.6" y="171.5" width="6.8" height="10.800000000000011" rx="1.5" fill="url(#pinv)" stroke="#a6a6a0" stroke-width="0.7"/>
<path d="M486 172.2 H492" stroke="#b0b0a8" stroke-width="1"/>
<ellipse cx="488.5" cy="168.5" rx="2.6" ry="2.8" fill="#ffffff"/>
<rect x="484.7" y="237" width="8.6" height="22" rx="3.4" fill="url(#pinv)" stroke="#a0a09a" stroke-width="0.8"/>
<path d="M485.7 245.5 H492.3 M485.7 250.5 H492.3" stroke="#b0b0a8" stroke-width="1"/>
<ellipse cx="488.7" cy="254.8" rx="2.3" ry="2.6" fill="#fbfbf9"/>
<rect x="503.4" y="164" width="9.2" height="10.5" rx="3.6" fill="#f1f1ed" stroke="#a6a6a0" stroke-width="0.9"/>
<rect x="504.6" y="171.5" width="6.8" height="10.800000000000011" rx="1.5" fill="url(#pinv)" stroke="#a6a6a0" stroke-width="0.7"/>
<path d="M505 172.2 H511" stroke="#b0b0a8" stroke-width="1"/>
<ellipse cx="507.5" cy="168.5" rx="2.6" ry="2.8" fill="#ffffff"/>
<rect x="503.7" y="237" width="8.6" height="22" rx="3.4" fill="url(#pinv)" stroke="#2e2e30" stroke-width="1.5"/>
<path d="M504.7 245.5 H511.3 M504.7 250.5 H511.3" stroke="#b0b0a8" stroke-width="1"/>
<ellipse cx="507.7" cy="254.8" rx="2.3" ry="2.6" fill="#fbfbf9"/>
<path d="M445.3 180.3 H514.8 L517.8 183.3 V237 L514.8 240 H445.3 L442.3 237 V183.3 Z" fill="#505052"/>
<rect x="444.1" y="183.3" width="71.89999999999995" height="52.69999999999999" rx="2" fill="#2d2d2f"/>
<text class="chip" x="474.50" y="204.9" font-size="13.91" textLength="32.30" lengthAdjust="spacingAndGlyphs">4882</text>
<text class="chip" x="461.00" y="222.9" font-size="14.49" textLength="46.28" lengthAdjust="spacingAndGlyphs">BA6L13</text>
<g transform="translate(442.3,180.3)" fill="none" stroke="#b8b8b8" stroke-width="1.55" stroke-linecap="round" stroke-linejoin="round"><path d="M24.6 13 L20.4 26.6 M24.6 13 C30 12.2,31 19.2,23 20 M24.6 13 C21 11.6,13.4 13,11.4 17.6 C10.6 21,16.6 20.2,22.6 15.4"/></g>
<circle cx="455.7" cy="227.0" r="2.2" fill="#66666a"/>
<rect x="447.4" y="275" width="9.2" height="10.5" rx="3.6" fill="#f1f1ed" stroke="#a6a6a0" stroke-width="0.9"/>
<rect x="448.6" y="282.5" width="6.8" height="12.699999999999989" rx="1.5" fill="url(#pinv)" stroke="#a6a6a0" stroke-width="0.7"/>
<path d="M449 283.2 H455" stroke="#b0b0a8" stroke-width="1"/>
<ellipse cx="451.5" cy="279.5" rx="2.6" ry="2.8" fill="#ffffff"/>
<rect x="447.7" y="349.5" width="8.6" height="21.5" rx="3.4" fill="url(#pinv)" stroke="#a0a09a" stroke-width="0.8"/>
<path d="M448.7 358.0 H455.3 M448.7 363.0 H455.3" stroke="#b0b0a8" stroke-width="1"/>
<ellipse cx="451.7" cy="366.8" rx="2.3" ry="2.6" fill="#fbfbf9"/>
<rect x="465.9" y="275" width="9.2" height="10.5" rx="3.6" fill="#f1f1ed" stroke="#a6a6a0" stroke-width="0.9"/>
<rect x="467.1" y="282.5" width="6.8" height="12.699999999999989" rx="1.5" fill="url(#pinv)" stroke="#a6a6a0" stroke-width="0.7"/>
<path d="M467.5 283.2 H473.5" stroke="#b0b0a8" stroke-width="1"/>
<ellipse cx="470.0" cy="279.5" rx="2.6" ry="2.8" fill="#ffffff"/>
<rect x="466.2" y="349.5" width="8.6" height="21.5" rx="3.4" fill="url(#pinv)" stroke="#2e2e30" stroke-width="1.5"/>
<path d="M467.2 358.0 H473.8 M467.2 363.0 H473.8" stroke="#b0b0a8" stroke-width="1"/>
<ellipse cx="470.2" cy="366.8" rx="2.3" ry="2.6" fill="#fbfbf9"/>
<rect x="484.4" y="275" width="9.2" height="10.5" rx="3.6" fill="#f1f1ed" stroke="#a6a6a0" stroke-width="0.9"/>
<rect x="485.6" y="282.5" width="6.8" height="12.699999999999989" rx="1.5" fill="url(#pinv)" stroke="#a6a6a0" stroke-width="0.7"/>
<path d="M486 283.2 H492" stroke="#b0b0a8" stroke-width="1"/>
<ellipse cx="488.5" cy="279.5" rx="2.6" ry="2.8" fill="#ffffff"/>
<rect x="484.7" y="349.5" width="8.6" height="21.5" rx="3.4" fill="url(#pinv)" stroke="#a0a09a" stroke-width="0.8"/>
<path d="M485.7 358.0 H492.3 M485.7 363.0 H492.3" stroke="#b0b0a8" stroke-width="1"/>
<ellipse cx="488.7" cy="366.8" rx="2.3" ry="2.6" fill="#fbfbf9"/>
<rect x="503.4" y="275" width="9.2" height="10.5" rx="3.6" fill="#f1f1ed" stroke="#a6a6a0" stroke-width="0.9"/>
<rect x="504.6" y="282.5" width="6.8" height="12.699999999999989" rx="1.5" fill="url(#pinv)" stroke="#a6a6a0" stroke-width="0.7"/>
<path d="M505 283.2 H511" stroke="#b0b0a8" stroke-width="1"/>
<ellipse cx="507.5" cy="279.5" rx="2.6" ry="2.8" fill="#ffffff"/>
<rect x="503.7" y="349.5" width="8.6" height="21.5" rx="3.4" fill="url(#pinv)" stroke="#2e2e30" stroke-width="1.5"/>
<path d="M504.7 358.0 H511.3 M504.7 363.0 H511.3" stroke="#b0b0a8" stroke-width="1"/>
<ellipse cx="507.7" cy="366.8" rx="2.3" ry="2.6" fill="#fbfbf9"/>
<path d="M445.3 293.2 H514.8 L517.8 296.2 V349.5 L514.8 352.5 H445.3 L442.3 349.5 V296.2 Z" fill="#505052"/>
<rect x="444.1" y="296.2" width="71.89999999999995" height="52.30000000000001" rx="2" fill="#2d2d2f"/>
<text class="chip" x="474.50" y="317.8" font-size="13.91" textLength="32.30" lengthAdjust="spacingAndGlyphs">4882</text>
<text class="chip" x="461.00" y="335.8" font-size="14.49" textLength="46.28" lengthAdjust="spacingAndGlyphs">BA6L13</text>
<g transform="translate(442.3,293.2)" fill="none" stroke="#b8b8b8" stroke-width="1.55" stroke-linecap="round" stroke-linejoin="round"><path d="M24.6 13 L20.4 26.6 M24.6 13 C30 12.2,31 19.2,23 20 M24.6 13 C21 11.6,13.4 13,11.4 17.6 C10.6 21,16.6 20.2,22.6 15.4"/></g>
<circle cx="455.7" cy="339.9" r="2.2" fill="#66666a"/>
<circle cx="122" cy="262" r="3" fill="#111"/>
<circle cx="122" cy="374" r="3" fill="#111"/>
<circle cx="439.5" cy="249" r="3" fill="#111"/>
<circle cx="440" cy="360.5" r="3" fill="#111"/>
<circle cx="256" cy="372" r="3.4" fill="#111"/>
<circle cx="237.5" cy="402.5" r="2" fill="#111"/>
<defs><linearGradient id="shT" x1="0" y1="0" x2="0" y2="1"><stop offset="0" stop-color="#555" stop-opacity="0.15"/><stop offset="0.3" stop-color="#484848" stop-opacity="0.8"/><stop offset="1" stop-color="#2a2a2a" stop-opacity="0.95"/></linearGradient>
<linearGradient id="shB" x1="0" y1="1" x2="0" y2="0"><stop offset="0" stop-color="#555" stop-opacity="0.15"/><stop offset="0.3" stop-color="#484848" stop-opacity="0.8"/><stop offset="1" stop-color="#2a2a2a" stop-opacity="0.95"/></linearGradient>
<linearGradient id="shL" x1="0" y1="0" x2="1" y2="0"><stop offset="0" stop-color="#555" stop-opacity="0.15"/><stop offset="0.3" stop-color="#484848" stop-opacity="0.8"/><stop offset="1" stop-color="#2a2a2a" stop-opacity="0.95"/></linearGradient>
<linearGradient id="shR" x1="1" y1="0" x2="0" y2="0"><stop offset="0" stop-color="#555" stop-opacity="0.15"/><stop offset="0.3" stop-color="#484848" stop-opacity="0.8"/><stop offset="1" stop-color="#2a2a2a" stop-opacity="0.95"/></linearGradient></defs>
<rect x="272.5" y="356" width="88" height="19" fill="url(#shT)"/>
<rect x="272.5" y="473" width="88" height="19" fill="url(#shB)"/>
<rect x="249" y="379" width="18" height="90.5" fill="url(#shL)"/>
<rect x="366" y="379" width="18" height="90.5" fill="url(#shR)"/>
<rect x="273.90" y="354.5" width="4.6" height="21" rx="2.2" fill="url(#pinv)" stroke="#707070" stroke-width="0.7"/>
<rect x="273.90" y="473" width="4.6" height="20" rx="2.2" fill="url(#pinv)" stroke="#707070" stroke-width="0.7"/>
<rect x="247" y="380.70" width="20" height="4.6" rx="2.2" fill="url(#pinh)" stroke="#707070" stroke-width="0.7"/>
<rect x="365.5" y="380.70" width="20" height="4.6" rx="2.2" fill="url(#pinh)" stroke="#707070" stroke-width="0.7"/>
<rect x="281.26" y="354.5" width="4.6" height="21" rx="2.2" fill="url(#pinv)" stroke="#707070" stroke-width="0.7"/>
<rect x="281.26" y="473" width="4.6" height="20" rx="2.2" fill="url(#pinv)" stroke="#707070" stroke-width="0.7"/>
<rect x="247" y="388.25" width="20" height="4.6" rx="2.2" fill="url(#pinh)" stroke="#707070" stroke-width="0.7"/>
<rect x="365.5" y="388.25" width="20" height="4.6" rx="2.2" fill="url(#pinh)" stroke="#707070" stroke-width="0.7"/>
<rect x="288.63" y="354.5" width="4.6" height="21" rx="2.2" fill="url(#pinv)" stroke="#707070" stroke-width="0.7"/>
<rect x="288.63" y="473" width="4.6" height="20" rx="2.2" fill="url(#pinv)" stroke="#707070" stroke-width="0.7"/>
<rect x="247" y="395.79" width="20" height="4.6" rx="2.2" fill="url(#pinh)" stroke="#707070" stroke-width="0.7"/>
<rect x="365.5" y="395.79" width="20" height="4.6" rx="2.2" fill="url(#pinh)" stroke="#707070" stroke-width="0.7"/>
<rect x="295.99" y="354.5" width="4.6" height="21" rx="2.2" fill="url(#pinv)" stroke="#707070" stroke-width="0.7"/>
<rect x="295.99" y="473" width="4.6" height="20" rx="2.2" fill="url(#pinv)" stroke="#707070" stroke-width="0.7"/>
<rect x="247" y="403.34" width="20" height="4.6" rx="2.2" fill="url(#pinh)" stroke="#707070" stroke-width="0.7"/>
<rect x="365.5" y="403.34" width="20" height="4.6" rx="2.2" fill="url(#pinh)" stroke="#707070" stroke-width="0.7"/>
<rect x="303.35" y="354.5" width="4.6" height="21" rx="2.2" fill="url(#pinv)" stroke="#707070" stroke-width="0.7"/>
<rect x="303.35" y="473" width="4.6" height="20" rx="2.2" fill="url(#pinv)" stroke="#707070" stroke-width="0.7"/>
<rect x="247" y="410.88" width="20" height="4.6" rx="2.2" fill="url(#pinh)" stroke="#707070" stroke-width="0.7"/>
<rect x="365.5" y="410.88" width="20" height="4.6" rx="2.2" fill="url(#pinh)" stroke="#707070" stroke-width="0.7"/>
<rect x="310.72" y="354.5" width="4.6" height="21" rx="2.2" fill="url(#pinv)" stroke="#707070" stroke-width="0.7"/>
<rect x="310.72" y="473" width="4.6" height="20" rx="2.2" fill="url(#pinv)" stroke="#707070" stroke-width="0.7"/>
<rect x="247" y="418.43" width="20" height="4.6" rx="2.2" fill="url(#pinh)" stroke="#707070" stroke-width="0.7"/>
<rect x="365.5" y="418.43" width="20" height="4.6" rx="2.2" fill="url(#pinh)" stroke="#707070" stroke-width="0.7"/>
<rect x="318.08" y="354.5" width="4.6" height="21" rx="2.2" fill="url(#pinv)" stroke="#707070" stroke-width="0.7"/>
<rect x="318.08" y="473" width="4.6" height="20" rx="2.2" fill="url(#pinv)" stroke="#707070" stroke-width="0.7"/>
<rect x="247" y="425.97" width="20" height="4.6" rx="2.2" fill="url(#pinh)" stroke="#707070" stroke-width="0.7"/>
<rect x="365.5" y="425.97" width="20" height="4.6" rx="2.2" fill="url(#pinh)" stroke="#707070" stroke-width="0.7"/>
<rect x="325.45" y="354.5" width="4.6" height="21" rx="2.2" fill="url(#pinv)" stroke="#707070" stroke-width="0.7"/>
<rect x="325.45" y="473" width="4.6" height="20" rx="2.2" fill="url(#pinv)" stroke="#707070" stroke-width="0.7"/>
<rect x="247" y="433.52" width="20" height="4.6" rx="2.2" fill="url(#pinh)" stroke="#707070" stroke-width="0.7"/>
<rect x="365.5" y="433.52" width="20" height="4.6" rx="2.2" fill="url(#pinh)" stroke="#707070" stroke-width="0.7"/>
<rect x="332.81" y="354.5" width="4.6" height="21" rx="2.2" fill="url(#pinv)" stroke="#707070" stroke-width="0.7"/>
<rect x="332.81" y="473" width="4.6" height="20" rx="2.2" fill="url(#pinv)" stroke="#707070" stroke-width="0.7"/>
<rect x="247" y="441.06" width="20" height="4.6" rx="2.2" fill="url(#pinh)" stroke="#707070" stroke-width="0.7"/>
<rect x="365.5" y="441.06" width="20" height="4.6" rx="2.2" fill="url(#pinh)" stroke="#707070" stroke-width="0.7"/>
<rect x="340.17" y="354.5" width="4.6" height="21" rx="2.2" fill="url(#pinv)" stroke="#707070" stroke-width="0.7"/>
<rect x="340.17" y="473" width="4.6" height="20" rx="2.2" fill="url(#pinv)" stroke="#707070" stroke-width="0.7"/>
<rect x="247" y="448.61" width="20" height="4.6" rx="2.2" fill="url(#pinh)" stroke="#707070" stroke-width="0.7"/>
<rect x="365.5" y="448.61" width="20" height="4.6" rx="2.2" fill="url(#pinh)" stroke="#707070" stroke-width="0.7"/>
<rect x="347.54" y="354.5" width="4.6" height="21" rx="2.2" fill="url(#pinv)" stroke="#707070" stroke-width="0.7"/>
<rect x="347.54" y="473" width="4.6" height="20" rx="2.2" fill="url(#pinv)" stroke="#707070" stroke-width="0.7"/>
<rect x="247" y="456.15" width="20" height="4.6" rx="2.2" fill="url(#pinh)" stroke="#707070" stroke-width="0.7"/>
<rect x="365.5" y="456.15" width="20" height="4.6" rx="2.2" fill="url(#pinh)" stroke="#707070" stroke-width="0.7"/>
<rect x="354.90" y="354.5" width="4.6" height="21" rx="2.2" fill="url(#pinv)" stroke="#707070" stroke-width="0.7"/>
<rect x="354.90" y="473" width="4.6" height="20" rx="2.2" fill="url(#pinv)" stroke="#707070" stroke-width="0.7"/>
<rect x="247" y="463.70" width="20" height="4.6" rx="2.2" fill="url(#pinh)" stroke="#707070" stroke-width="0.7"/>
<rect x="365.5" y="463.70" width="20" height="4.6" rx="2.2" fill="url(#pinh)" stroke="#707070" stroke-width="0.7"/>
<path d="M269 373.5 H364.5 L367.5 376.5 V472 L364.5 475 H268 L265 472 V377.5 Z" fill="#505054"/>
<rect x="267.5" y="376.0" width="97.5" height="96.5" rx="2.5" fill="#38383b"/>
<circle cx="280" cy="387" r="6.5" fill="#1e1e20"/>
<g fill="#bdb9a4" stroke="none"><path d="M317.5 389 L328.5 411.5 L306 411.5 Z"/></g>
<g fill="#38383b" stroke="#bdb9a4" stroke-width="1.6"><circle cx="317.3" cy="391.5" r="2.6"/><circle cx="307.5" cy="410" r="2.6"/><circle cx="327.5" cy="410" r="2.6"/></g>
<g stroke="#333335" stroke-width="1" fill="none"><path d="M317.3 394 V404 L310 409 M317.3 404 L325 409"/></g>
<text class="ic" x="280.5" y="429.8" font-size="12.5" textLength="73.5" lengthAdjust="spacingAndGlyphs">TMC5160-ES</text>
<text class="ic" x="280.5" y="442.3" font-size="12.5" textLength="73.5" lengthAdjust="spacingAndGlyphs">1708 65570</text>
<text class="ic" x="280" y="454.8" font-size="12.5" textLength="50.5" lengthAdjust="spacingAndGlyphs">GERMANY</text>
</svg></body></html>
